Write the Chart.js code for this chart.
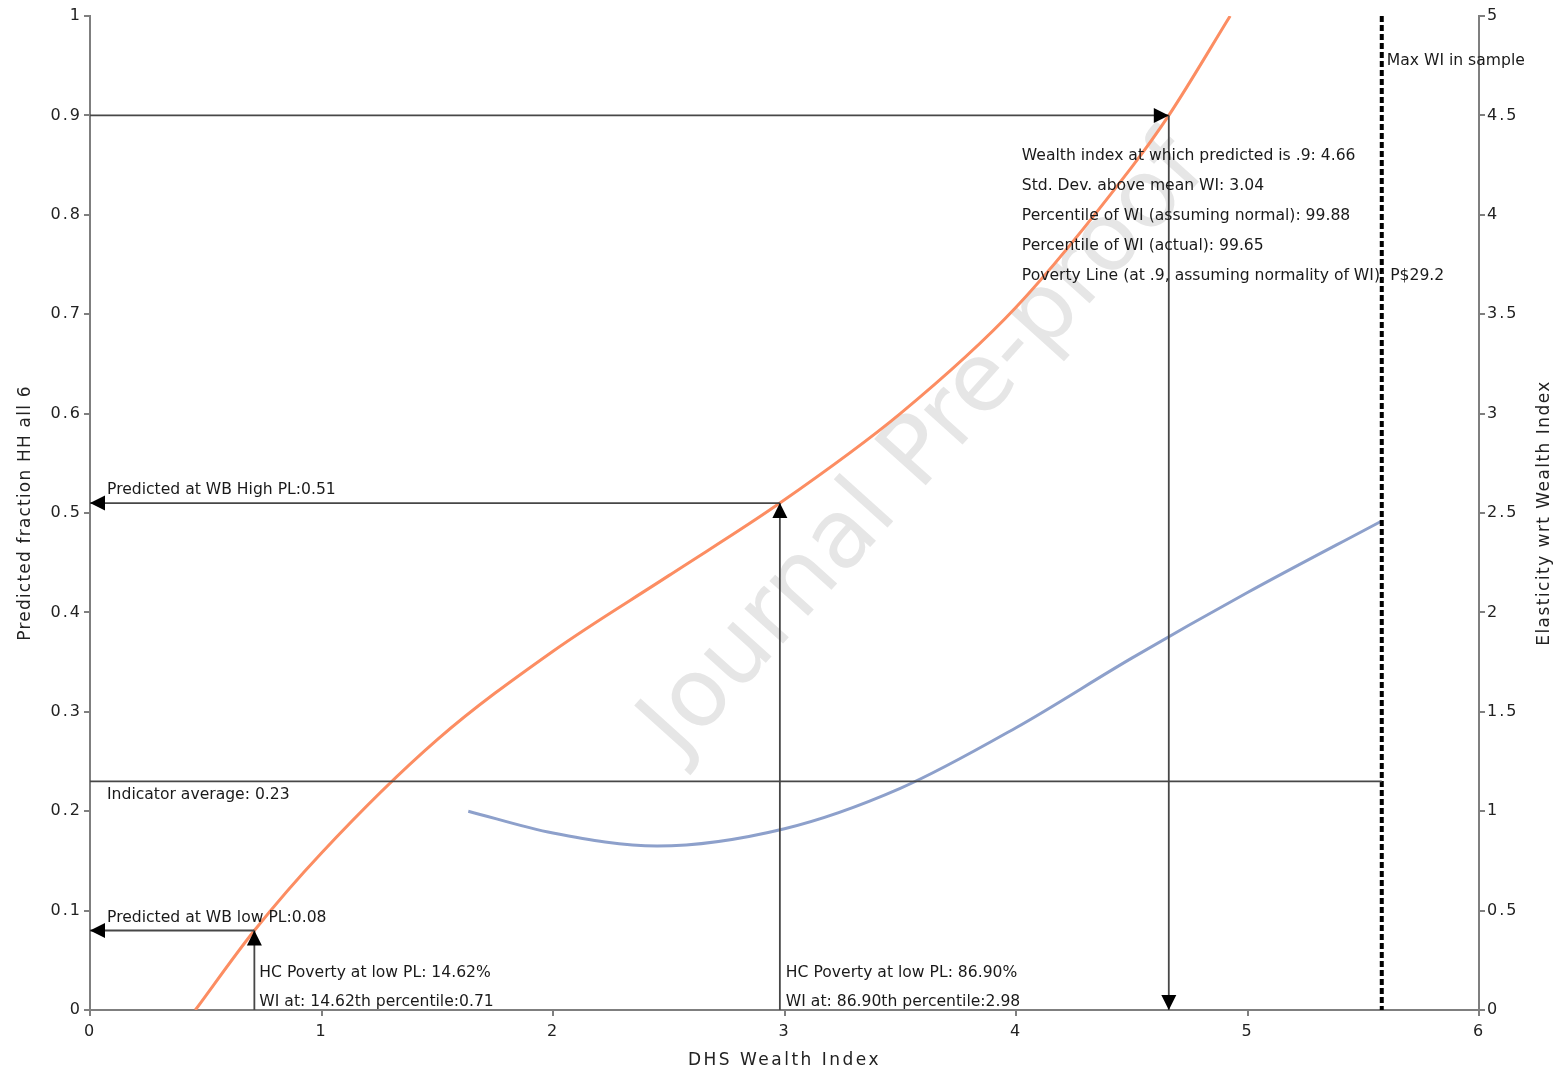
<!DOCTYPE html>
<html>
<head>
<meta charset="utf-8">
<script src="https://cdn.jsdelivr.net/npm/chart.js@4.4.1/dist/chart.umd.min.js"></script>
<style>
  html, body { margin: 0; padding: 0; background: #ffffff; }
  #wrap { width: 1557px; height: 1073px; }
</style>
</head>
<body>
<div id="wrap"><canvas id="chart" width="1557" height="1073"></canvas></div>
<script>
// Predicted fraction of households (left axis) against DHS wealth index
const wealthX   = [0.455, 0.71, 1.0, 1.5, 2.0, 2.5, 2.98, 3.5, 4.0, 4.5, 4.66, 4.925];
const predicted = [0.0, 0.08, 0.158, 0.272, 0.361, 0.437, 0.51, 0.600, 0.707, 0.848, 0.90, 1.0];

// Elasticity with respect to wealth index (right axis)
const elastX     = [1.634, 2.0, 2.45, 3.0, 3.5, 4.0, 4.5, 5.0, 5.58];
const elasticity = [1.0, 0.89, 0.825, 0.912, 1.115, 1.42, 1.77, 2.10, 2.46];

// Tick labels
const xTickLabels     = ['0', '1', '2', '3', '4', '5', '6'];
const leftTickLabels  = ['0', '0.1', '0.2', '0.3', '0.4', '0.5', '0.6', '0.7', '0.8', '0.9', '1'];
const rightTickLabels = ['0', '0.5', '1', '1.5', '2', '2.5', '3', '3.5', '4', '4.5', '5'];

// Reference points
const lowPL  = { wi: 0.71, pred: 0.08 };
const highPL = { wi: 2.98, pred: 0.51 };
const target = { wi: 4.66, pred: 0.9 };
const indicatorAvg = 0.23;
const maxWI = 5.58;

const lowPLText  = ['HC Poverty at low PL: 14.62%', 'WI at: 14.62th percentile:0.71'];
const highPLText = ['HC Poverty at low PL: 86.90%', 'WI at: 86.90th percentile:2.98'];
const targetText = [
  'Wealth index at which predicted is .9: 4.66',
  'Std. Dev. above mean WI: 3.04',
  'Percentile of WI (assuming normal): 99.88',
  'Percentile of WI (actual): 99.65',
  'Poverty Line (at .9, assuming normality of WI): P$29.2'
];

const AXIS_GREY = '#7f7f7f';
const LINE_DARK = '#474747';
const TEXT = '#1a1a1a';
const FONT = '"DejaVu Sans", Verdana, sans-serif';

function arrowHead(ctx, x, y, dir) {
  const len = 15, half = 7.5;
  ctx.beginPath();
  if (dir === 'left') { ctx.moveTo(x, y); ctx.lineTo(x + len, y - half); ctx.lineTo(x + len, y + half); }
  if (dir === 'right') { ctx.moveTo(x, y); ctx.lineTo(x - len, y - half); ctx.lineTo(x - len, y + half); }
  if (dir === 'up') { ctx.moveTo(x, y); ctx.lineTo(x - half, y + len); ctx.lineTo(x + half, y + len); }
  if (dir === 'down') { ctx.moveTo(x, y); ctx.lineTo(x - half, y - len); ctx.lineTo(x + half, y - len); }
  ctx.closePath();
  ctx.fillStyle = '#000';
  ctx.fill();
}

function segment(ctx, x1, y1, x2, y2) {
  ctx.beginPath();
  ctx.moveTo(x1, y1);
  ctx.lineTo(x2, y2);
  ctx.stroke();
}

const tickSpacing = {
  id: 'tickSpacing',
  beforeDraw(chart) { chart.ctx.letterSpacing = '2px'; },
  afterDraw(chart) { chart.ctx.letterSpacing = '0px'; }
};

const watermark = {
  id: 'watermark',
  beforeDatasetsDraw(chart) {
    const ctx = chart.ctx;
    const xs = chart.scales.x, ys = chart.scales.y;
    ctx.save();
    ctx.letterSpacing = '0px';
    ctx.translate(xs.getPixelForValue(3.61), ys.getPixelForValue(0.565));
    ctx.rotate(-48 * Math.PI / 180);
    ctx.font = '95px ' + FONT;
    ctx.fillStyle = '#e6e6e6';
    ctx.textAlign = 'center';
    ctx.textBaseline = 'middle';
    ctx.fillText('Journal Pre-proof', 0, 0);
    ctx.restore();
  }
};

function vTitle(ctx, text, x, y, spacing) {
  ctx.save();
  ctx.letterSpacing = spacing + 'px';
  ctx.translate(x, y);
  ctx.rotate(-Math.PI / 2);
  ctx.fillText(text, 0, 0);
  ctx.restore();
}

const guides = {
  id: 'guides',
  afterDatasetsDraw(chart) {
    const ctx = chart.ctx;
    const xs = chart.scales.x, ys = chart.scales.y;
    const X = v => xs.getPixelForValue(v);
    const Y = v => ys.getPixelForValue(v);
    const area = chart.chartArea;
    ctx.save();
    ctx.letterSpacing = '0px';

    // Max WI dashed marker
    ctx.strokeStyle = '#000';
    ctx.lineWidth = 4;
    ctx.setLineDash([6, 3]);
    segment(ctx, X(maxWI), area.top, X(maxWI), area.bottom);
    ctx.setLineDash([]);

    ctx.strokeStyle = LINE_DARK;
    ctx.lineWidth = 1.8;

    // Indicator average
    segment(ctx, X(0), Y(indicatorAvg), X(maxWI), Y(indicatorAvg));

    // Low poverty line
    segment(ctx, X(lowPL.wi), Y(0), X(lowPL.wi), Y(lowPL.pred));
    segment(ctx, X(lowPL.wi), Y(lowPL.pred), X(0), Y(lowPL.pred));
    arrowHead(ctx, X(lowPL.wi), Y(lowPL.pred), 'up');
    arrowHead(ctx, X(0), Y(lowPL.pred), 'left');

    // High poverty line
    segment(ctx, X(highPL.wi), Y(0), X(highPL.wi), Y(highPL.pred));
    segment(ctx, X(highPL.wi), Y(highPL.pred), X(0), Y(highPL.pred));
    arrowHead(ctx, X(highPL.wi), Y(highPL.pred), 'up');
    arrowHead(ctx, X(0), Y(highPL.pred), 'left');

    // Predicted = .9
    segment(ctx, X(0), Y(target.pred), X(target.wi), Y(target.pred));
    segment(ctx, X(target.wi), Y(target.pred), X(target.wi), Y(0));
    arrowHead(ctx, X(target.wi), Y(target.pred), 'right');
    arrowHead(ctx, X(target.wi), Y(0), 'down');

    // Labels
    ctx.fillStyle = TEXT;
    ctx.font = '15.6px ' + FONT;
    ctx.textAlign = 'left';
    ctx.textBaseline = 'middle';
    ctx.fillText('Predicted at WB low PL:0.08', X(0) + 17, Y(lowPL.pred) - 13);
    ctx.fillText('Predicted at WB High PL:0.51', X(0) + 17, Y(highPL.pred) - 13);
    ctx.fillText('Indicator average: 0.23', X(0) + 17, Y(indicatorAvg) + 14);
    ctx.fillText(lowPLText[0], X(lowPL.wi) + 5, Y(0) - 37);
    ctx.fillText(lowPLText[1], X(lowPL.wi) + 5, Y(0) - 8);
    ctx.fillText(highPLText[0], X(highPL.wi) + 6, Y(0) - 37);
    ctx.fillText(highPLText[1], X(highPL.wi) + 6, Y(0) - 8);
    targetText.forEach((t, i) => ctx.fillText(t, X(target.wi) - 147, Y(target.pred) + 41 + i * 29.8));
    ctx.fillText('Max WI in sample', X(maxWI) + 5, Y(1) + 45);
    ctx.restore();
  },
  afterDraw(chart) {
    // Axis titles (both vertical titles read bottom-to-top)
    const ctx = chart.ctx;
    const area = chart.chartArea;
    const midY = (area.top + area.bottom) / 2;
    ctx.save();
    ctx.font = '17px ' + FONT;
    ctx.fillStyle = '#222';
    ctx.textAlign = 'center';
    ctx.textBaseline = 'middle';
    ctx.letterSpacing = '2.5px';
    ctx.fillText('DHS Wealth Index', (area.left + area.right) / 2, 1061);
    vTitle(ctx, 'Predicted fraction HH all 6', 26, midY, 1.2);
    vTitle(ctx, 'Elasticity wrt Wealth Index', 1545, midY, 1.45);
    ctx.restore();
  }
};

const axisCommon = {
  grid: { drawOnChartArea: false, drawTicks: true, tickLength: 6, color: AXIS_GREY, lineWidth: 2 },
  border: { display: true, color: AXIS_GREY, width: 2 }
};

new Chart(document.getElementById('chart').getContext('2d'), {
  type: 'scatter',
  data: {
    datasets: [
      {
        label: 'Predicted fraction HH all 6',
        data: wealthX.map((x, i) => ({ x, y: predicted[i] })),
        yAxisID: 'y',
        showLine: true,
        borderColor: '#fc8d62',
        borderWidth: 3,
        pointRadius: 0,
        cubicInterpolationMode: 'monotone'
      },
      {
        label: 'Elasticity wrt Wealth Index',
        data: elastX.map((x, i) => ({ x, y: elasticity[i] })),
        yAxisID: 'y2',
        showLine: true,
        borderColor: '#8da0cb',
        borderWidth: 3,
        pointRadius: 0,
        cubicInterpolationMode: 'monotone'
      }
    ]
  },
  options: {
    responsive: false,
    animation: false,
    layout: { padding: { top: 16, left: 0, right: 0, bottom: 0 } },
    plugins: { legend: { display: false }, tooltip: { enabled: false } },
    scales: {
      x: {
        type: 'linear', position: 'bottom', min: 0, max: 6,
        ...axisCommon,
        ticks: {
          stepSize: 1, padding: 6, color: '#222', font: { family: FONT, size: 16 },
          callback: v => xTickLabels[Math.round(v)]
        },
        afterFit(s) { s.height = 63; }
      },
      y: {
        type: 'linear', position: 'left', min: 0, max: 1,
        ...axisCommon,
        ticks: {
          stepSize: 0.1, padding: 2, color: '#222', font: { family: FONT, size: 16 },
          callback: v => leftTickLabels[Math.round(v * 10)]
        },
        afterFit(s) { s.width = 90; }
      },
      y2: {
        type: 'linear', position: 'right', min: 0, max: 5,
        ...axisCommon,
        ticks: {
          stepSize: 0.5, padding: 2, color: '#222', font: { family: FONT, size: 16 },
          callback: v => rightTickLabels[Math.round(v * 2)]
        },
        afterFit(s) { s.width = 78; }
      }
    }
  },
  plugins: [tickSpacing, watermark, guides]
});
</script>
</body>
</html>
